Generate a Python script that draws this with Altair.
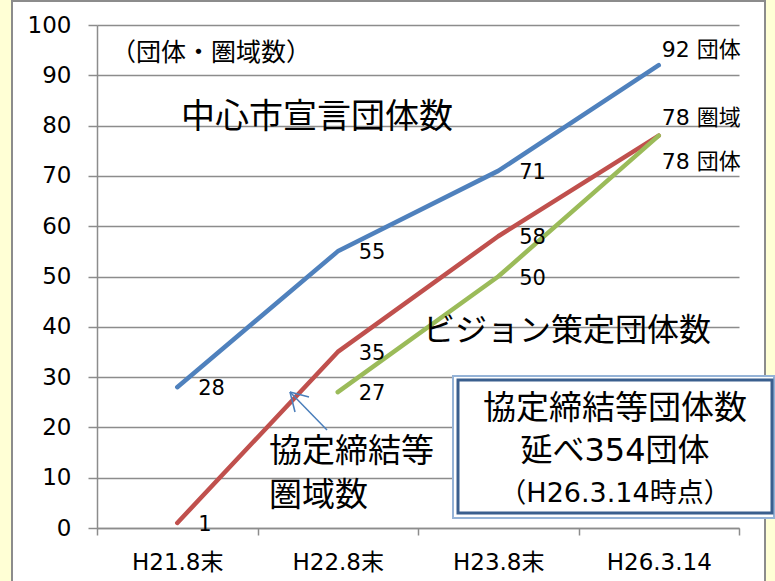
import altair as alt
import pandas as pd

# Period labels along the x axis
periods = ["H21.8末", "H22.8末", "H23.8末", "H26.3.14"]

# Counts per period
central_city = [28, 55, 71, 92]      # 中心市宣言団体数
agreement_areas = [1, 35, 58, 78]    # 協定締結等圏域数
vision_groups = [None, 27, 50, 78]   # ビジョン策定団体数

# Labels printed next to the final points
end_labels = ["92 団体", "78 圏域", "78 団体"]

series_names = ["中心市宣言", "協定締結等圏域", "ビジョン策定"]
series_colors = ["#4F81BD", "#C0504D", "#9BBB59"]

rows = []
for name, values in zip(series_names, [central_city, agreement_areas, vision_groups]):
    for p, v in zip(periods, values):
        if v is not None:
            rows.append({"period": p, "series": name, "value": v})
df = pd.DataFrame(rows)

last = periods[-1]
df_mid = df[df["period"] != last].copy()
df_mid["label"] = df_mid["value"].astype(str)
df_end = df[df["period"] == last].copy()
df_end["label"] = end_labels

W, H = 642, 503
PAD_L, PAD_T, PAD_R, PAD_B = 97, 25, 36, 53

NUM_FONT = "'DejaVu Sans', 'Noto Sans CJK JP', sans-serif"
JP_FONT = "'Noto Sans CJK JP', sans-serif"
GRAY = "#8C8C8C"
PAGE = "#FFFFD5"

x_enc = alt.X(
    "period:N",
    sort=periods,
    bandPosition=0.5,
    scale=alt.Scale(type="band", domain=periods, paddingInner=0, paddingOuter=0),
    axis=alt.Axis(
        title=None,
        labelAngle=0,
        labelFont=NUM_FONT,
        labelFontSize=23,
        labelColor="#000000",
        labelPadding=16,
        tickBand="extent",
        tickSize=7,
        tickColor=GRAY,
        tickWidth=1.5,
        domainColor=GRAY,
        domainWidth=1.5,
        grid=False,
    ),
)
y_enc = alt.Y(
    "value:Q",
    scale=alt.Scale(domain=[0, 100], nice=False),
    axis=alt.Axis(
        title=None,
        values=list(range(0, 101, 10)),
        labelFont=NUM_FONT,
        labelFontSize=23,
        labelColor="#000000",
        labelPadding=17,
        tickSize=9,
        tickColor=GRAY,
        tickWidth=1.5,
        domainColor=GRAY,
        domainWidth=1.5,
        grid=True,
        gridColor=GRAY,
        gridWidth=1.5,
    ),
)

one = pd.DataFrame({"k": [0]})

# Pale-yellow margins and the gray frame of the white page
left_strip = alt.Chart(one).mark_rect(fill=PAGE).encode(
    x=alt.value(0 - PAD_L), x2=alt.value(11 - PAD_L),
    y=alt.value(0 - PAD_T), y2=alt.value(581 - PAD_T),
)
right_strip = alt.Chart(one).mark_rect(fill=PAGE).encode(
    x=alt.value(766 - PAD_L), x2=alt.value(775 - PAD_L),
    y=alt.value(0 - PAD_T), y2=alt.value(581 - PAD_T),
)
frame_left = alt.Chart(one).mark_rule(color=GRAY, strokeWidth=2).encode(
    x=alt.value(12 - PAD_L), y=alt.value(0 - PAD_T), y2=alt.value(581 - PAD_T),
)
frame_right = alt.Chart(one).mark_rule(color=GRAY, strokeWidth=2).encode(
    x=alt.value(765 - PAD_L), y=alt.value(0 - PAD_T), y2=alt.value(581 - PAD_T),
)
frame_top = alt.Chart(one).mark_rule(color=GRAY, strokeWidth=2).encode(
    x=alt.value(11 - PAD_L), x2=alt.value(766 - PAD_L), y=alt.value(1 - PAD_T),
)
frame = [left_strip, right_strip, frame_left, frame_right, frame_top]

base = alt.Chart(df)


def series_line(name, color):
    return base.transform_filter(alt.datum.series == name).mark_line(
        color=color, strokeWidth=4.5, strokeCap="round", strokeJoin="round"
    ).encode(x=x_enc, y=y_enc)


lines = [series_line(n, c) for n, c in zip(series_names, series_colors)]

mid_labels = alt.Chart(df_mid).mark_text(
    align="left", baseline="middle", dx=21, dy=2,
    font=NUM_FONT, fontSize=21, color="#000000",
).encode(x=x_enc, y=y_enc, text="label:N")


def end_label(name, dy):
    return alt.Chart(df_end).transform_filter(alt.datum.series == name).mark_text(
        align="left", baseline="middle", dx=3, dy=dy,
        font=NUM_FONT, fontSize=22, color="#000000",
    ).encode(x=x_enc, y=y_enc, text="label:N")


end_labels_layers = [
    end_label(series_names[0], -15),
    end_label(series_names[1], -18),
    end_label(series_names[2], 26),
]

# Free-standing annotation texts
notes = pd.DataFrame({
    "text": ["（団体・圏域数）", "中心市宣言団体数", "ビジョン策定団体数", "協定締結等", "圏域数"],
    "px": [211, 317, 567, 269, 269],
    "py": [53, 118, 331, 452, 496],
    "size": [25, 34, 32, 33, 33],
    "align": ["center", "center", "center", "left", "left"],
})


def note(i):
    r = notes.iloc[i]
    return alt.Chart(pd.DataFrame({"t": [r["text"]]})).mark_text(
        align=r["align"], baseline="middle", font=JP_FONT,
        fontSize=int(r["size"]), color="#000000",
    ).encode(
        x=alt.value(int(r["px"]) - PAD_L), y=alt.value(int(r["py"]) - PAD_T), text="t:N"
    )


note_layers = [note(i) for i in range(len(notes))]

# Arrow pointing at the red line
arrow_df = pd.DataFrame({
    "x1": [327, 290, 290], "y1": [430, 392, 392],
    "x2": [290, 309, 295], "y2": [392, 397, 412],
})


def arrow_seg(i):
    r = arrow_df.iloc[i]
    return alt.Chart(one).mark_rule(color="#4A7EBB", strokeWidth=1.5).encode(
        x=alt.value(int(r["x1"]) - PAD_L), y=alt.value(int(r["y1"]) - PAD_T),
        x2=alt.value(int(r["x2"]) - PAD_L), y2=alt.value(int(r["y2"]) - PAD_T),
    )


arrow_layers = [arrow_seg(i) for i in range(len(arrow_df))]

# Summary box
box_outer = alt.Chart(one).mark_rect(fill="#FFFFFF", stroke="#95B3D7", strokeWidth=2).encode(
    x=alt.value(453 - PAD_L), x2=alt.value(774 - PAD_L),
    y=alt.value(376 - PAD_T), y2=alt.value(518 - PAD_T),
)
box_inner = alt.Chart(one).mark_rect(fill="#FFFFFF", stroke="#3A5F8E", strokeWidth=3).encode(
    x=alt.value(458 - PAD_L), x2=alt.value(772 - PAD_L),
    y=alt.value(380 - PAD_T), y2=alt.value(513 - PAD_T),
)

box_lines = pd.DataFrame({
    "text": ["協定締結等団体数", "延べ354団体", "（H26.3.14時点）"],
    "py": [409, 451, 494],
    "size": [33, 32, 27],
})


def box_text(i):
    r = box_lines.iloc[i]
    return alt.Chart(pd.DataFrame({"t": [r["text"]]})).mark_text(
        align="center", baseline="middle", font=NUM_FONT,
        fontSize=int(r["size"]), color="#000000",
    ).encode(x=alt.value(615 - PAD_L), y=alt.value(int(r["py"]) - PAD_T), text="t:N")


box_layers = [box_outer, box_inner] + [box_text(i) for i in range(len(box_lines))]

chart = alt.layer(
    *frame, *lines, mid_labels, *end_labels_layers, *note_layers, *arrow_layers, *box_layers
).properties(
    width=W, height=H,
    autosize=alt.AutoSizeParams(type="none"),
    padding={"left": PAD_L, "top": PAD_T, "right": PAD_R, "bottom": PAD_B},
    background="#FFFFFF",
).configure_view(stroke=None)

chart.save("out.html", embed_options={"renderer": "svg", "actions": False})
